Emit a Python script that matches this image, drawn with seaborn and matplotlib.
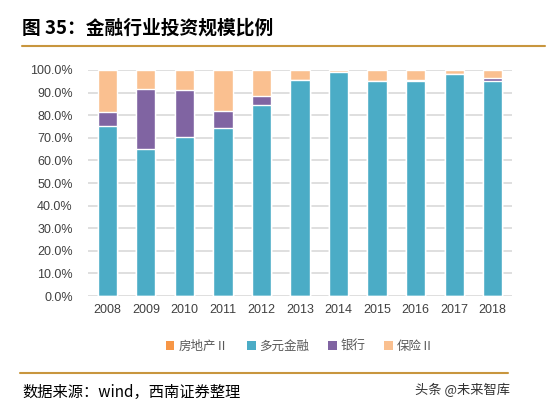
import matplotlib
matplotlib.use("Agg")
import matplotlib.pyplot as plt
import seaborn as sns
import pandas as pd
import numpy as np
from matplotlib.patches import Patch
from matplotlib.lines import Line2D

years = ["2008", "2009", "2010", "2011", "2012", "2013", "2014", "2015", "2016", "2017", "2018"]
real_estate = [0.0, 0.0, 0.0, 0.0, 0.0, 0.0, 0.0, 0.0, 0.0, 0.0, 0.0]
diversified = [75.1, 65.0, 70.5, 74.4, 84.7, 95.6, 99.0, 95.1, 95.1, 98.1, 95.3]
bank = [6.1, 26.4, 20.6, 7.5, 3.7, 0.0, 0.0, 0.0, 0.6, 0.0, 1.1]
insurance = [100 - a - b - c for a, b, c in zip(real_estate, diversified, bank)]

series_names = ["房地产Ⅱ", "多元金融", "银行", "保险Ⅱ"]
series_vals = [real_estate, diversified, bank, insurance]
colors = ["#F79646", "#4BACC6", "#8064A2", "#FAC090"]

sns.set_theme(style="white")
plt.rcParams['font.family'] = ['Noto Sans CJK SC', 'DejaVu Sans']

fig = plt.figure(figsize=(5.54, 4.11), dpi=100)
ax = fig.add_axes([88/554, 1-296/411, (512-88)/554, (296-70)/411])

cum = np.zeros(len(years))
cums = []
for v in series_vals:
    cum = cum + np.array(v) / 100.0
    cums.append(cum.copy())

for i in range(len(series_vals) - 1, -1, -1):
    df = pd.DataFrame({"year": years, "val": cums[i]})
    sns.barplot(data=df, x="year", y="val", color=colors[i], width=0.5,
                saturation=1, ax=ax, zorder=3)

ax.set_ylim(0, 1.0)
ax.set_xlim(-0.5, len(years) - 0.5)
ticks = np.arange(0, 1.01, 0.1)
ax.set_yticks(ticks)
ax.set_yticklabels([f"{t*100:.1f}%" for t in ticks],
                   fontsize=9, color="#404040", family=['Liberation Sans'])
ax.tick_params(axis='x', labelsize=9, colors="#404040", length=0, pad=6)
ax.tick_params(axis='y', length=0, pad=11)
for lbl in ax.get_xticklabels():
    lbl.set_family('Liberation Sans')
ax.set_xlabel("")
ax.set_ylabel("")
ax.yaxis.grid(True, color="#D9D9D9", linewidth=1.2, zorder=0)
ax.set_axisbelow(True)
for s in ax.spines.values():
    s.set_visible(False)

handles = [Patch(facecolor=c, edgecolor='none', label=n) for c, n in zip(colors, series_names)]
fig.legend(handles=handles, loc='center', bbox_to_anchor=(300/554, 1-346/411),
           ncol=4, frameon=False, fontsize=9, handlelength=0.7, handleheight=0.7,
           handletextpad=0.3, columnspacing=1.5, labelcolor="#595959")

fig.text(22/554, 1-28/411, "图 35：金融行业投资规模比例", fontsize=13.5,
         fontweight='bold', color="black", va='center', ha='left')
fig.add_artist(Line2D([22/554, 545/554], [1-46/411, 1-46/411], color="#C8963E", linewidth=1.5))
fig.add_artist(Line2D([20/554, 508/554], [1-373/411, 1-373/411], color="#C8963E", linewidth=1.5))
fig.text(22/554, 1-392/411, "数据来源：wind，西南证券整理", fontsize=11,
         color="black", va='center', ha='left')
fig.text(510/554, 1-390/411, "头条 @未来智库", fontsize=9.5,
         color="#333333", va='center', ha='right')

fig.savefig("out.png", dpi=100)
